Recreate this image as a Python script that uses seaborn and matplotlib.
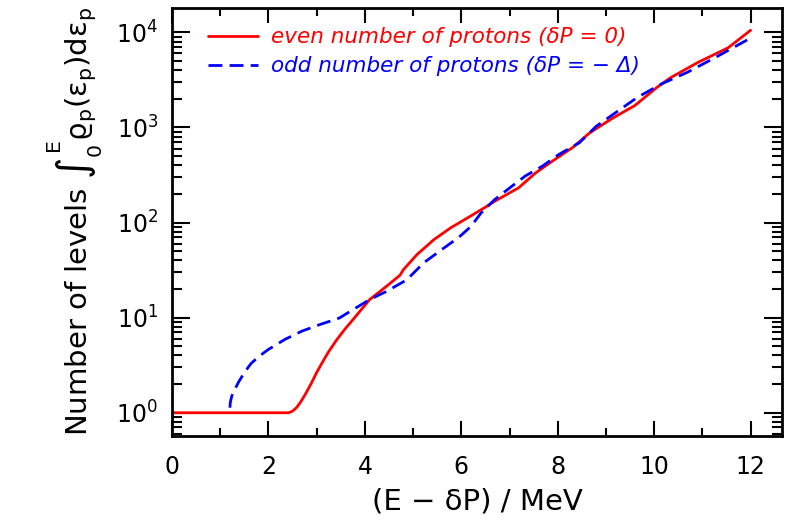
import matplotlib
matplotlib.use("Agg")
import matplotlib.pyplot as plt
import matplotlib.ticker as mticker
import numpy as np
import pandas as pd
import seaborn as sns

# even number of protons (dP = 0)
even_x = [0, 2.42, 2.50, 2.58, 2.66, 2.76, 2.88, 3.00, 3.12, 3.25, 3.40, 3.57, 3.75,
          4.10, 4.45, 4.73, 4.80, 5.08, 5.43, 5.78, 6.13, 6.48, 6.69, 7.19, 7.54,
          7.89, 8.31, 8.66, 9.15, 9.6, 10.06, 10.34, 10.9, 11.54, 12.0]
even_y = [1, 1, 1.04, 1.13, 1.28, 1.55, 2.0, 2.65, 3.4, 4.4, 5.7, 7.4, 9.5,
          15.5, 21.4, 28, 32, 46, 66, 88, 112, 143, 167, 232, 332,
          442, 615, 875, 1260, 1700, 2640, 3330, 4800, 6900, 10500]

# odd number of protons (dP = -Delta)
odd_x = [1.2, 1.21, 1.24, 1.30, 1.38, 1.50, 1.64, 1.80, 1.99, 2.34, 2.69, 3.05,
         3.47, 3.75, 4.10, 4.45, 4.87, 5.22, 5.64, 5.95, 6.2, 6.41, 6.69, 7.05,
         7.33, 7.68, 8.03, 8.45, 8.8, 9.3, 9.64, 10.13, 10.69, 11.26, 12.0]
odd_y = [1.13, 1.3, 1.5, 1.75, 2.1, 2.65, 3.3, 3.9, 4.6, 5.9, 7.2, 8.4,
         9.9, 12.1, 15.5, 18.9, 25, 37.7, 54, 70, 91, 126, 174, 241,
         309, 391, 522, 690, 1030, 1550, 2050, 2830, 3800, 5400, 8700]

label_even = "even number of protons (δP = 0)"
label_odd = "odd number of protons (δP = − Δ)"

sns.set_theme(style="ticks")
plt.rcParams['font.family'] = ['DejaVu Sans']
plt.rcParams['mathtext.fontset'] = 'dejavusans'
plt.rcParams['mathtext.default'] = 'regular'

fig = plt.figure(figsize=(7.91, 5.24), dpi=100)
ax = fig.add_axes([0.2175, 0.168, 0.771, 0.8167])

df_even = pd.DataFrame({"x": even_x, "y": even_y})
df_odd = pd.DataFrame({"x": odd_x, "y": odd_y})

sns.lineplot(data=df_even, x="x", y="y", ax=ax, color="#ff0000", lw=2.0,
             label=label_even, sort=False, estimator=None)
sns.lineplot(data=df_odd, x="x", y="y", ax=ax, color="#0000ff", lw=2.0,
             label=label_odd, sort=False, estimator=None)
ax.lines[1].set_dashes((5.0, 2.6))

ax.set_yscale("log")
ax.set_xlim(0, 12.65)
ax.set_ylim(0.57, 1.8e4)

ax.xaxis.set_major_locator(mticker.MultipleLocator(2))
ax.xaxis.set_minor_locator(mticker.MultipleLocator(1))
ax.yaxis.set_major_locator(mticker.LogLocator(base=10, numticks=10))
ax.yaxis.set_minor_locator(mticker.LogLocator(base=10, subs=np.arange(2, 10), numticks=20))
ax.yaxis.set_minor_formatter(mticker.NullFormatter())

ax.tick_params(which="both", direction="in", top=True, right=True, width=1.5,
               colors="black", labelcolor="black", labelsize=17)
ax.tick_params(axis="x", which="major", length=11, pad=14)
ax.tick_params(axis="x", which="minor", length=6)
ax.tick_params(axis="y", which="major", length=13, pad=10)
ax.tick_params(axis="y", which="minor", length=7)
for s in ax.spines.values():
    s.set_linewidth(2.0)
    s.set_color("black")

ax.set_xlabel("(E − δP) / MeV", fontsize=21, labelpad=6, color="black")
ax.set_ylabel(r"Number of levels $\int_0^E \varrho_p(\varepsilon_p)d\varepsilon_p$",
              fontsize=21, labelpad=8, color="black")

leg = ax.legend(loc="upper left", frameon=False, handlelength=2.3,
                handletextpad=0.6, labelspacing=0.42, borderaxespad=0.3,
                bbox_to_anchor=(0.035, 0.99), labelcolor="linecolor",
                prop={"style": "italic", "size": 15.5})

fig.savefig("out.png", dpi=100)
